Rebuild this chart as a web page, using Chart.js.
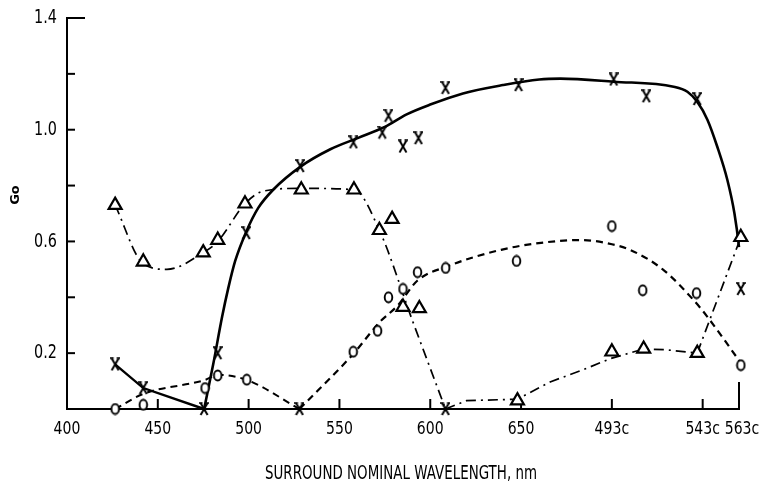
<!DOCTYPE html>
<html><head><meta charset="utf-8">
<script src="https://cdn.jsdelivr.net/npm/chart.js"></script>
<style>html,body{margin:0;padding:0;background:#fff}#wrap{width:770px;height:488px;position:relative}</style>
</head><body><div id="wrap"><canvas id="c" width="770" height="488"></canvas></div>
<script>
// ---- axis ticks ----
const xTickValues = [400, 450, 500, 550, 600, 650, 700, 750, 770];
const xTickLabels = ['400', '450', '500', '550', '600', '650', '493c', '543c', '563c'];
const yTickValues = [0, 0.2, 0.4, 0.6, 0.8, 1.0, 1.2, 1.4];
const yTickLabels = ['', '0.2', '', '0.6', '', '1.0', '', '1.4'];
const xTitle = 'SURROUND NOMINAL WAVELENGTH, nm';
const yTitle = 'Go';

// ---- X markers (crosses) ----
const crossX = [426.5, 442, 475.5, 483, 498.7, 528.4, 557.7, 573.6, 577, 585, 593.5, 608.4, 648.6, 701, 719, 747, 771, 528, 608.4];
const crossY = [0.16, 0.075, 0, 0.2, 0.63, 0.87, 0.955, 0.99, 1.05, 0.94, 0.97, 1.15, 1.16, 1.18, 1.12, 1.11, 0.43, 0, 0];
// solid fitted curve through crosses
const solidCurveX = [475.5, 480.5, 485.4, 488.7, 492.6, 498.7, 505.3, 513.5, 528.4, 545, 560, 575, 587, 600, 618, 640, 660, 671.7, 701, 734, 741.6, 747, 752.6, 758, 763.6, 767.5, 770, 772];
const solidCurveY = [0, 0.16, 0.33, 0.43, 0.53, 0.635, 0.72, 0.785, 0.867, 0.93, 0.97, 1.01, 1.055, 1.09, 1.13, 1.16, 1.18, 1.183, 1.172, 1.154, 1.136, 1.10, 1.036, 0.94, 0.82, 0.70, 0.58, 0.43];
// short solid segment at left
const solidShortX = [426.5, 442, 475.5];
const solidShortY = [0.16, 0.075, 0];

// ---- O markers (circles) ----
const circX = [426.5, 442, 476, 483, 499, 557.6, 571, 577, 585, 593, 608.5, 647.5, 700, 717, 746.6, 771];
const circY = [0, 0.015, 0.075, 0.12, 0.105, 0.205, 0.28, 0.40, 0.43, 0.49, 0.505, 0.53, 0.655, 0.425, 0.415, 0.157];
const dashLeftX = [426.5, 442, 476, 483, 499, 528];
const dashLeftY = [0, 0.054, 0.104, 0.122, 0.104, 0];
const dashRightX = [528, 558, 572, 582, 593, 609, 639, 661, 683, 700, 710, 728, 745, 752.6, 771];
const dashRightY = [0, 0.2, 0.31, 0.37, 0.46, 0.51, 0.57, 0.595, 0.605, 0.59, 0.57, 0.50, 0.39, 0.33, 0.165];

// ---- triangle markers ----
const triX = [426.5, 442, 475, 483, 498, 529, 558, 572, 579, 585, 594, 648, 700, 717.5, 747, 771];
const triY = [0.73, 0.527, 0.56, 0.605, 0.735, 0.785, 0.785, 0.64, 0.68, 0.365, 0.36, 0.03, 0.205, 0.215, 0.20, 0.615];
const dotUpperX = [426.5, 442, 455, 475, 483, 498, 508, 529, 558, 572, 590, 608.4];
const dotUpperY = [0.73, 0.52, 0.5, 0.56, 0.6, 0.735, 0.78, 0.79, 0.785, 0.64, 0.32, 0];
const dotLowerX = [608.4, 620, 648, 666, 684, 699, 717.5, 730, 747, 771];
const dotLowerY = [0, 0.03, 0.035, 0.097, 0.14, 0.18, 0.215, 0.212, 0.2, 0.615];

const pts = (xs, ys) => xs.map((v, i) => ({ x: v, y: ys[i] }));
const FONT = "'DejaVu Sans', sans-serif";

// marker glyph images
function makeCross() {
  const c = document.createElement('canvas'); c.width = 10; c.height = 14;
  const g = c.getContext('2d'); g.strokeStyle = '#000'; g.lineWidth = 2; g.lineCap = 'butt';
  g.beginPath(); g.moveTo(1.5, 1); g.lineTo(8.5, 13); g.moveTo(8.5, 1); g.lineTo(1.5, 13); g.stroke();
  g.lineWidth = 1.5; g.beginPath(); g.moveTo(0, 1); g.lineTo(3.5, 1); g.moveTo(6.5, 1); g.lineTo(10, 1); g.stroke();
  return c;
}
function makeOval() {
  const c = document.createElement('canvas'); c.width = 11; c.height = 13;
  const g = c.getContext('2d'); g.fillStyle = '#fff'; g.strokeStyle = '#000'; g.lineWidth = 1.9;
  g.beginPath(); g.ellipse(5.5, 6.5, 3.8, 5, 0, 0, Math.PI * 2); g.fill(); g.stroke();
  return c;
}
const crossImg = makeCross();
const ovalImg = makeOval();

function drawText(ctx, text, x, y, size, sx, align, weight) {
  ctx.save();
  ctx.font = (weight || 'normal') + ' ' + size + 'px ' + FONT;
  ctx.textBaseline = 'middle';
  ctx.textAlign = align;
  ctx.translate(x, y);
  ctx.scale(sx, 1);
  ctx.fillText(text, 0, 0);
  ctx.restore();
}

const decor = {
  id: 'decor',
  beforeDatasetsDraw(chart) {
    const { ctx, scales: { x, y } } = chart;
    ctx.save();
    ctx.strokeStyle = '#000';
    ctx.lineWidth = 2;
    yTickValues.forEach((v, i) => {
      if (i === 0) return;
      const py = y.getPixelForValue(v);
      const len = i === yTickValues.length - 1 ? 18 : 8;
      ctx.beginPath(); ctx.moveTo(x.left, py); ctx.lineTo(x.left + len, py); ctx.stroke();
    });
    xTickValues.forEach((v, i) => {
      if (i === 0) return;
      const px = x.getPixelForValue(v);
      const len = i === xTickValues.length - 1 ? 27 : 10;
      ctx.beginPath(); ctx.moveTo(px, y.bottom); ctx.lineTo(px, y.bottom - len); ctx.stroke();
    });
    ctx.restore();
  },
  afterDraw(chart) {
    const { ctx, scales: { x, y } } = chart;
    ctx.save();
    ctx.fillStyle = '#000';
    // tick labels
    yTickValues.forEach((v, i) => {
      if (!yTickLabels[i]) return;
      drawText(ctx, yTickLabels[i], x.left - 10, y.getPixelForValue(v), 20, 0.72, 'right');
    });
    xTickValues.forEach((v, i) => {
      let px = x.getPixelForValue(v);
      if (i === xTickValues.length - 1) px += 3;
      drawText(ctx, xTickLabels[i], px, y.bottom + 20, 18, 0.78, 'center');
    });
    // x title, fitted to reference width
    ctx.font = '19px ' + FONT;
    const w = ctx.measureText(xTitle).width;
    drawText(ctx, xTitle, 401, 474, 19, 272 / w, 'center');
    // y title
    ctx.translate(16, 195);
    ctx.rotate(-Math.PI / 2);
    ctx.font = 'bold 13px ' + FONT;
    ctx.textAlign = 'center';
    ctx.textBaseline = 'middle';
    ctx.fillText(yTitle, 0, 0);
    ctx.restore();
  }
};

const markerBase = { showLine: false, borderColor: '#000', clip: false };
const lineBase = { pointRadius: 0, borderColor: '#000', fill: false, clip: false };

new Chart(document.getElementById('c'), {
  type: 'line',
  data: {
    datasets: [
      { ...markerBase, data: pts(crossX, crossY), pointStyle: crossImg, pointRadius: 6 },
      { ...markerBase, data: pts(triX, triY), pointStyle: 'triangle', pointRadius: 7.5, pointBorderWidth: 2.2, pointBackgroundColor: '#fff' },
      { ...markerBase, data: pts(circX, circY), pointStyle: ovalImg, pointRadius: 5 },
      { ...lineBase, data: pts(solidCurveX, solidCurveY), borderWidth: 2.6, cubicInterpolationMode: 'monotone' },
      { ...lineBase, data: pts(solidShortX, solidShortY), borderWidth: 2.4, tension: 0 },
      { ...lineBase, data: pts(dashLeftX, dashLeftY), borderWidth: 2, borderDash: [7, 5], cubicInterpolationMode: 'monotone' },
      { ...lineBase, data: pts(dashRightX, dashRightY), borderWidth: 2.2, borderDash: [7, 5], cubicInterpolationMode: 'monotone' },
      { ...lineBase, data: pts(dotUpperX, dotUpperY), borderWidth: 1.7, borderDash: [10, 5, 2, 5], cubicInterpolationMode: 'monotone' },
      { ...lineBase, data: pts(dotLowerX, dotLowerY), borderWidth: 1.7, borderDash: [10, 5, 2, 5], tension: 0 }
    ]
  },
  options: {
    responsive: false,
    animation: false,
    devicePixelRatio: 1,
    layout: { padding: { top: 18, right: 31, bottom: 0, left: 0 } },
    plugins: { legend: { display: false }, tooltip: { enabled: false } },
    scales: {
      x: {
        type: 'linear', min: 400, max: 770,
        afterBuildTicks: s => { s.ticks = xTickValues.map(v => ({ value: v })); },
        afterFit: s => { s.height = 79; },
        grid: { display: false },
        border: { display: true, color: '#000', width: 2 },
        ticks: { display: false }
      },
      y: {
        type: 'linear', min: 0, max: 1.4,
        afterBuildTicks: s => { s.ticks = yTickValues.map(v => ({ value: v })); },
        afterFit: s => { s.width = 67; },
        grid: { display: false },
        border: { display: true, color: '#000', width: 2 },
        ticks: { display: false }
      }
    }
  },
  plugins: [decor]
});
</script>
</body></html>
